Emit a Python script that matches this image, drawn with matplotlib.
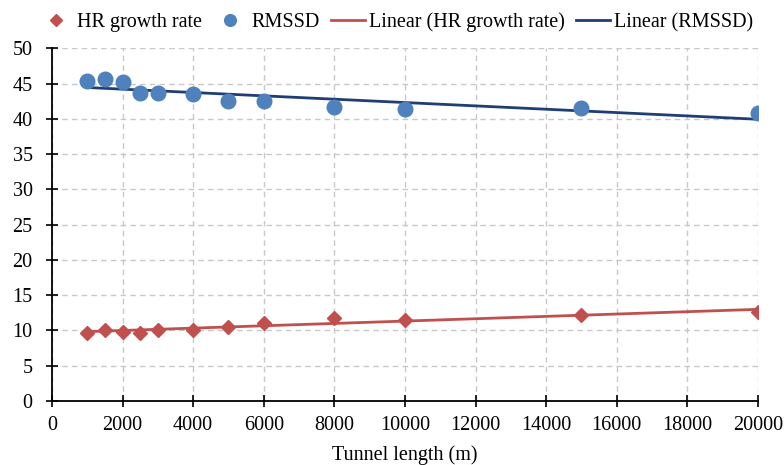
import numpy as np
import matplotlib
matplotlib.use("Agg")
import matplotlib.pyplot as plt

plt.rcParams['font.family'] = ['Liberation Serif', 'DejaVu Serif']

tunnel_length = [1000, 1500, 2000, 2500, 3000, 4000, 5000, 6000, 8000, 10000, 15000, 20000]
hr_growth_rate = [9.7, 10.1, 9.8, 9.7, 10.0, 10.1, 10.5, 11.0, 11.8, 11.5, 12.2, 12.6]
rmssd = [45.4, 45.7, 45.2, 43.7, 43.6, 43.5, 42.5, 42.6, 41.7, 41.4, 41.5, 40.9]

x_ticks = list(range(0, 20001, 2000))
y_ticks = list(range(0, 51, 5))

red = '#C0504D'
blue = '#4F81BD'
dark_blue = '#1F3E74'

fig = plt.figure(figsize=(7.84, 4.65), dpi=100)
ax = fig.add_axes([0.0663, 0.1376, 0.9005, 0.7585])

x = np.array(tunnel_length, dtype=float)
xfit = np.array([x.min(), x.max()])
p_hr = np.polyfit(x, hr_growth_rate, 1)
p_rm = np.polyfit(x, rmssd, 1)

h1, = ax.plot(tunnel_length, hr_growth_rate, linestyle='none', marker='D',
              markersize=7.5, color=red, zorder=4, label='HR growth rate')
h2, = ax.plot(tunnel_length, rmssd, linestyle='none', marker='o',
              markersize=10.5, color=blue, zorder=4, label='RMSSD')
h3, = ax.plot(xfit, np.polyval(p_hr, xfit), color=red, lw=2, zorder=3,
              label='Linear (HR growth rate)')
h4, = ax.plot(xfit, np.polyval(p_rm, xfit), color=dark_blue, lw=2, zorder=3,
              label='Linear (RMSSD)')

ax.set_xlim(0, 20000)
ax.set_ylim(0, 50)
ax.set_xticks(x_ticks)
ax.set_yticks(y_ticks)
ax.tick_params(direction='inout', length=8, width=1.2, labelsize=14.5, color='black')
ax.tick_params(axis='x', pad=7)
ax.tick_params(axis='y', pad=10)
ax.grid(True, color='#C8C8C8', linestyle=(0, (4, 3)), linewidth=1)
ax.set_axisbelow(True)
for s in ['top', 'right']:
    ax.spines[s].set_visible(False)
for s in ['left', 'bottom']:
    ax.spines[s].set_linewidth(1.3)
ax.set_xlabel('Tunnel length (m)', fontsize=14.5, labelpad=7)

fig.legend(handles=[h1, h2, h3, h4], loc='upper center', bbox_to_anchor=(0.505, 1.012),
           ncol=4, frameon=False, fontsize=14.5, handlelength=1.7, handletextpad=0.2,
           columnspacing=0.55, markerscale=0.8)

fig.savefig('out.png', dpi=100)
